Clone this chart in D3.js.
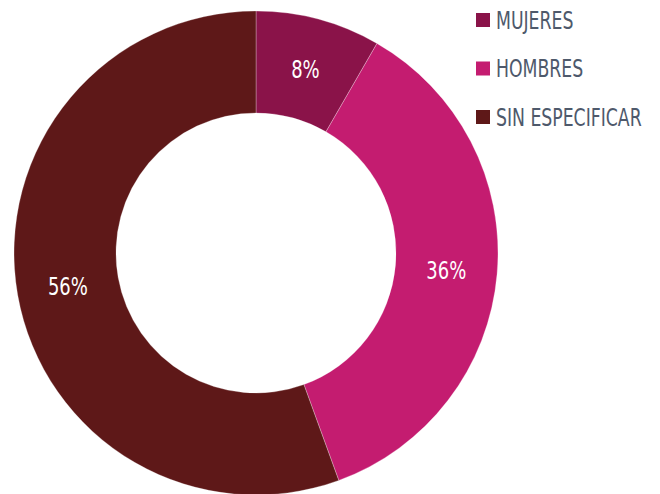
<!DOCTYPE html>
<html>
<head>
<meta charset="utf-8">
<script src="https://cdn.jsdelivr.net/npm/d3@7"></script>
<style>
  body { margin: 0; background: #fff; }
  text { font-family: "DejaVu Sans Condensed", "DejaVu Sans", sans-serif; }
</style>
</head>
<body>
<div id="chart"></div>
<script>
// data
const categories = ["MUJERES", "HOMBRES", "SIN ESPECIFICAR"];
const values = [3, 13, 20];
const colors = ["#8a1349", "#c41c70", "#5e1818"];

const width = 660, height = 494;
const cx = 256, cy = 253;
const outerR = 242, innerR = 140;
const squeeze = 0.8; // narrow look of the original font

const svg = d3.select("#chart").append("svg")
    .attr("width", width)
    .attr("height", height);

const data = categories.map((c, i) => ({ cat: c, value: values[i], color: colors[i] }));
const total = d3.sum(values);

const pie = d3.pie().value(d => d.value).sort(null);
const arc = d3.arc().innerRadius(innerR).outerRadius(outerR);

const g = svg.append("g").attr("transform", `translate(${cx},${cy})`);

// slices
g.selectAll("path")
    .data(pie(data))
    .join("path")
    .attr("d", arc)
    .attr("fill", d => d.data.color)
    .attr("stroke", "rgba(255,255,255,0.35)")
    .attr("stroke-width", 0.8);

// percent labels
g.selectAll("text.pct")
    .data(pie(data))
    .join("text")
    .attr("class", "pct")
    .attr("transform", d => `translate(${arc.centroid(d)}) scale(${squeeze},1)`)
    .attr("text-anchor", "middle")
    .attr("dy", "0.36em")
    .attr("fill", "#fff")
    .style("font-size", "25px")
    .text(d => Math.round(d.data.value / total * 100) + "%");

// legend
const legend = svg.append("g").attr("transform", "translate(476, 20)");
data.forEach((d, i) => {
    const row = legend.append("g").attr("transform", `translate(0, ${i * 48.5})`);
    row.append("rect")
        .attr("x", 0)
        .attr("y", -7)
        .attr("width", 14)
        .attr("height", 14)
        .attr("fill", d.color);
    row.append("text")
        .attr("transform", `translate(20,0) scale(${squeeze},1)`)
        .attr("dy", "0.36em")
        .attr("fill", "#4e596b")
        .style("font-size", "24px")
        .text(d.cat);
});
</script>
</body>
</html>
